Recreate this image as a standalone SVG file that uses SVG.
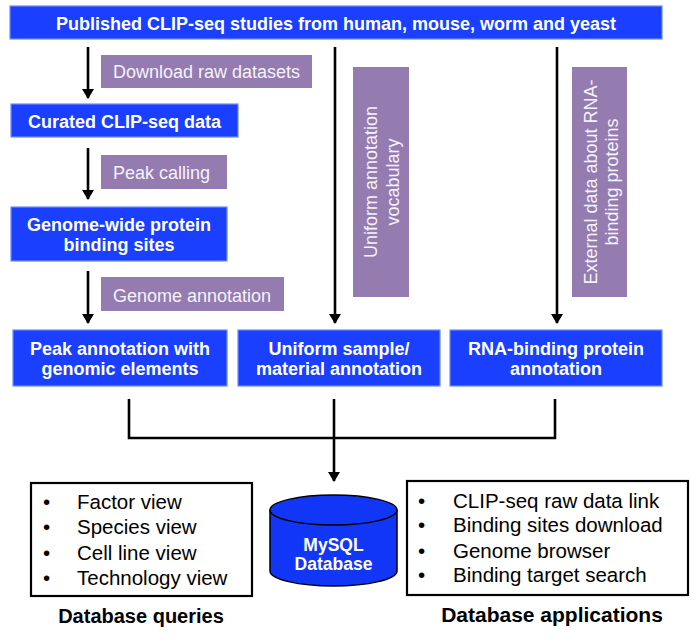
<svg xmlns="http://www.w3.org/2000/svg" width="699" height="643" viewBox="0 0 699 643">
<style>
.blue{fill:#1A3FFF;stroke:#6F8DFF;stroke-width:1.2}
.bt{font-family:"Liberation Sans",Arial,sans-serif;font-weight:bold;font-size:18px;fill:#fff;text-anchor:middle}
.db{font-size:17.5px}
.lab{fill:#947CB0}
.lt{font-family:"Liberation Sans",Arial,sans-serif;font-size:18px;fill:#F6F2FA}
.ln{stroke:#000;stroke-width:2.6;fill:none}
.box{fill:#fff;stroke:#000;stroke-width:2.2}
.it{font-family:"Liberation Sans",Arial,sans-serif;font-size:20.5px;fill:#000}
.cap{font-family:"Liberation Sans",Arial,sans-serif;font-weight:bold;font-size:20px;fill:#000;text-anchor:middle}
</style>
<defs>
<marker id="ah" markerWidth="10" markerHeight="12" refX="9" refY="6" orient="auto" markerUnits="userSpaceOnUse">
<path d="M0,0 L10,6 L0,12 z" fill="#000"/>
</marker>
</defs>
<rect width="699" height="643" fill="#fff"/>

<g id="connectors">
<line class="ln" x1="88" y1="47" x2="88" y2="98" marker-end="url(#ah)"/>
<line class="ln" x1="88" y1="148" x2="88" y2="199" marker-end="url(#ah)"/>
<line class="ln" x1="88" y1="271" x2="88" y2="323" marker-end="url(#ah)"/>
<line class="ln" x1="335" y1="47" x2="335" y2="323" marker-end="url(#ah)"/>
<line class="ln" x1="557" y1="47" x2="557" y2="323" marker-end="url(#ah)"/>
<polyline class="ln" points="129,399 129,438 555,438 555,399"/>
<line class="ln" x1="334" y1="399" x2="334" y2="481" marker-end="url(#ah)"/>
</g>

<g id="published">
<rect class="blue" x="10" y="6" width="652" height="33"/>
<text class="bt" x="336" y="30">Published CLIP-seq studies from human, mouse, worm and yeast</text>
</g>

<g id="label-download">
<rect class="lab" x="101" y="55" width="211" height="33"/>
<text class="lt" x="113" y="78">Download raw datasets</text>
</g>

<g id="curated">
<rect class="blue" x="11" y="104" width="227" height="33"/>
<text class="bt" x="124.5" y="128">Curated CLIP-seq data</text>
</g>

<g id="label-peak">
<rect class="lab" x="101" y="155" width="126" height="34"/>
<text class="lt" x="113" y="179">Peak calling</text>
</g>

<g id="genome-wide">
<rect class="blue" x="11" y="207" width="216" height="54"/>
<text class="bt" x="119" y="231">Genome-wide protein</text>
<text class="bt" x="119" y="251">binding sites</text>
</g>

<g id="label-genome">
<rect class="lab" x="101" y="277" width="183" height="34"/>
<text class="lt" x="113" y="302">Genome annotation</text>
</g>

<g id="label-vocab">
<rect class="lab" x="353" y="67" width="56" height="230"/>
<text class="lt" text-anchor="middle" transform="translate(377,182) rotate(-90)">Uniform annotation</text>
<text class="lt" text-anchor="middle" transform="translate(399,182) rotate(-90)">vocabulary</text>
</g>

<g id="label-external">
<rect class="lab" x="572" y="67" width="55" height="230"/>
<text class="lt" text-anchor="middle" transform="translate(597,182) rotate(-90)">External data about RNA-</text>
<text class="lt" text-anchor="middle" transform="translate(618,182) rotate(-90)">binding proteins</text>
</g>

<g id="peak-annotation">
<rect class="blue" x="13" y="330" width="214" height="56"/>
<text class="bt" x="120" y="355">Peak annotation with</text>
<text class="bt" x="120" y="375">genomic elements</text>
</g>

<g id="sample-annotation">
<rect class="blue" x="238" y="330" width="202" height="56"/>
<text class="bt" x="339" y="355">Uniform sample/</text>
<text class="bt" x="339" y="375">material annotation</text>
</g>

<g id="rbp-annotation">
<rect class="blue" x="450" y="330" width="212" height="56"/>
<text class="bt" x="556" y="355">RNA-binding protein</text>
<text class="bt" x="556" y="375">annotation</text>
</g>

<g id="database">
<path d="M270,510 L270,571 A63.5,15 0 0 0 397,571 L397,510" fill="#1236F5" stroke="#000" stroke-width="1.5"/>
<ellipse cx="333.5" cy="510" rx="63.5" ry="15" fill="#1236F5" stroke="#000" stroke-width="1.5"/>
<text class="bt db" x="333.5" y="551">MySQL</text>
<text class="bt db" x="333.5" y="570">Database</text>
</g>

<g id="queries">
<rect class="box" x="31" y="483" width="221" height="113"/>
<g class="it">
<text x="43" y="509">•</text><text x="77" y="509">Factor view</text>
<text x="43" y="534">•</text><text x="77" y="534">Species view</text>
<text x="43" y="560">•</text><text x="77" y="560">Cell line view</text>
<text x="43" y="585">•</text><text x="77" y="585">Technology view</text>
</g>
<text class="cap" x="141" y="623">Database queries</text>
</g>

<g id="applications">
<rect class="box" x="407" y="481" width="281" height="114"/>
<g class="it">
<text x="418" y="508">•</text><text x="453" y="508">CLIP-seq raw data link</text>
<text x="418" y="532">•</text><text x="453" y="532">Binding sites download</text>
<text x="418" y="558">•</text><text x="453" y="558">Genome browser</text>
<text x="418" y="582">•</text><text x="453" y="582">Binding target search</text>
</g>
<text class="cap" x="552" y="622" style="font-size:21px">Database applications</text>
</g>
</svg>
